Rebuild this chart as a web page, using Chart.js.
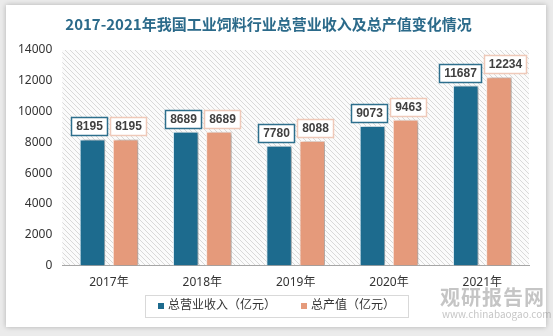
<!DOCTYPE html>
<html>
<head>
<meta charset="utf-8">
<script src="https://cdn.jsdelivr.net/npm/chart.js@4.4.0/dist/chart.umd.min.js"></script>
<style>
  html, body { margin: 0; padding: 0; background: #ebebeb; }
  #wrap { position: relative; width: 553px; height: 336px; overflow: hidden; }
  #card { position: absolute; left: 6px; top: 5px; width: 540px; height: 322px; background: #fff; box-shadow: 0 0 5px rgba(0,0,0,0.25); }
  #chart { position: absolute; left: 0; top: 0; }
  #mark { position: absolute; left: 440px; top: 286px; white-space: nowrap; color: rgba(110,110,110,0.4); font-family: "Noto Sans CJK SC"; }
  #mark .big { font-size: 20px; font-weight: bold; line-height: 22px; letter-spacing: 1px; }
  #mark .small { font-size: 10px; line-height: 12px; margin-left: 2px; }
</style>
</head>
<body>
<div id="wrap">
  <div id="card"></div>
  <canvas id="chart" width="553" height="336"></canvas>
  <div id="mark"><div class="big">观研报告网</div><div class="small">www.chinabaogao.com</div></div>
</div>
<script>
document.addEventListener('DOMContentLoaded', () => {
    const years = ['2017年', '2018年', '2019年', '2020年', '2021年'];
    const revenue = [8195, 8689, 7780, 9073, 11687];
    const output = [8195, 8689, 8088, 9463, 12234];
    const yTicks = [0, 2000, 4000, 6000, 8000, 10000, 12000, 14000];

    const blue = '#1d6b8e';
    const orange = '#e59a7b';
    const baseFont = '"Noto Sans", "Noto Sans CJK SC", sans-serif';

    // 斜线背景的小图块
    const tile = document.createElement('canvas');
    tile.width = 5; tile.height = 5;
    const tg = tile.getContext('2d');
    tg.fillStyle = '#fbfbfb';
    tg.fillRect(0, 0, 5, 5);
    tg.strokeStyle = '#d9d9d9';
    tg.lineWidth = 1;
    tg.beginPath();
    tg.moveTo(0, 0); tg.lineTo(5, 5);
    tg.moveTo(-1, 4); tg.lineTo(1, 6);
    tg.moveTo(4, -1); tg.lineTo(6, 1);
    tg.stroke();

    const bgPlugin = {
        id: 'hatchBg',
        beforeDraw(chart) {
            const { ctx, chartArea: a } = chart;
            ctx.save();
            ctx.fillStyle = ctx.createPattern(tile, 'repeat');
            ctx.fillRect(a.left, a.top, a.right - a.left, a.bottom - a.top);
            ctx.restore();
        }
    };

    const shadowPlugin = {
        id: 'barShadow',
        beforeDatasetsDraw(chart) {
            const ctx = chart.ctx;
            ctx.save();
            ctx.shadowColor = 'rgba(0,0,0,0.3)';
            ctx.shadowOffsetX = 3;
            ctx.shadowOffsetY = 0;
            ctx.shadowBlur = 3;
        },
        afterDatasetsDraw(chart) {
            chart.ctx.restore();
        }
    };

    // 柱顶带边框的数值标签（重叠时左右推开）
    const labelPlugin = {
        id: 'boxLabels',
        afterDatasetsDraw(chart) {
            const ctx = chart.ctx;
            ctx.save();
            ctx.font = 'bold 12px "Liberation Sans Narrow", "Liberation Sans", sans-serif';
            ctx.textAlign = 'center';
            ctx.textBaseline = 'middle';
            const m0 = chart.getDatasetMeta(0), m1 = chart.getDatasetMeta(1);
            years.forEach((_, j) => {
                const items = [
                    { bar: m0.data[j], text: String(revenue[j]), color: '#2d6f8d' },
                    { bar: m1.data[j], text: String(output[j]), color: '#efc9b9' }
                ];
                items.forEach(it => {
                    it.w = Math.round(ctx.measureText(it.text).width) + 9;
                    it.cx = it.bar.x;
                });
                const overlap = (items[0].cx + items[0].w / 2 + 3) - (items[1].cx - items[1].w / 2);
                if (overlap > 0) {
                    items[0].cx -= overlap / 2;
                    items[1].cx += overlap / 2;
                }
                items.forEach(it => {
                    const h = 18;
                    const x = Math.round(it.cx - it.w / 2) + 0.5;
                    const y = Math.round(it.bar.y - 4 - h) + 0.5;
                    ctx.fillStyle = '#fff';
                    ctx.fillRect(x, y, it.w, h);
                    ctx.lineWidth = 1.5;
                    ctx.strokeStyle = it.color;
                    ctx.strokeRect(x, y, it.w, h);
                    ctx.fillStyle = '#404040';
                    ctx.fillText(it.text, x + it.w / 2, y + h / 2 + 0.5);
                });
            });
            ctx.restore();
        }
    };

    // 底部图例（带外框）
    const legendPlugin = {
        id: 'boxLegend',
        afterDraw(chart) {
            const ctx = chart.ctx;
            ctx.save();
            ctx.font = '12px ' + baseFont;
            ctx.textBaseline = 'middle';
            const cy = 306;
            let x = 158;
            const startX = x;
            chart.data.datasets.forEach((ds, i) => {
                ctx.fillStyle = ds.backgroundColor;
                ctx.fillRect(x, cy - 3, 6, 6);
                x += 10;
                ctx.fillStyle = '#333';
                ctx.fillText(ds.label, x, cy);
                x += ctx.measureText(ds.label).width;
                if (i < chart.data.datasets.length - 1) x += 25;
            });
            ctx.strokeStyle = '#d9d9d9';
            ctx.lineWidth = 1;
            ctx.strokeRect(startX - 13 + 0.5, cy - 11 + 0.5, Math.round(x - startX + 26), 22);
            ctx.restore();
        }
    };

    new Chart(document.getElementById('chart'), {
        type: 'bar',
        data: {
            labels: years,
            datasets: [
                { label: '总营业收入（亿元）', data: revenue, backgroundColor: blue, borderColor: '#d4e6ef', borderWidth: 1 },
                { label: '总产值（亿元）', data: output, backgroundColor: orange, borderColor: '#fbe9e1', borderWidth: 1 }
            ]
        },
        options: {
            responsive: false,
            animation: false,
            layout: { padding: { left: 8, right: 24, top: 15, bottom: 36 } },
            datasets: { bar: { categoryPercentage: 0.71, barPercentage: 0.77 } },
            plugins: {
                title: {
                    display: true,
                    text: '2017-2021年我国工业饲料行业总营业收入及总产值变化情况',
                    color: '#2b6a8a',
                    font: { family: '"Noto Sans CJK SC", serif', size: 15, weight: 'bold' },
                    padding: { top: 0, bottom: 17 }
                },
                legend: { display: false },
                tooltip: { enabled: false }
            },
            scales: {
                x: {
                    grid: { display: false, drawTicks: false },
                    border: { display: true, color: '#a6a6a6', width: 1 },
                    ticks: { color: '#333', font: { family: baseFont, size: 12 }, padding: 10 }
                },
                y: {
                    min: 0, max: 14000,
                    afterBuildTicks(scale) { scale.ticks = yTicks.map(v => ({ value: v })); },
                    grid: { display: false, drawTicks: false },
                    border: { display: false },
                    ticks: { color: '#333', font: { family: baseFont, size: 12 }, padding: 10, callback: v => String(v) }
                }
            }
        },
        plugins: [bgPlugin, shadowPlugin, labelPlugin, legendPlugin]
    });
});
</script>
</body>
</html>
